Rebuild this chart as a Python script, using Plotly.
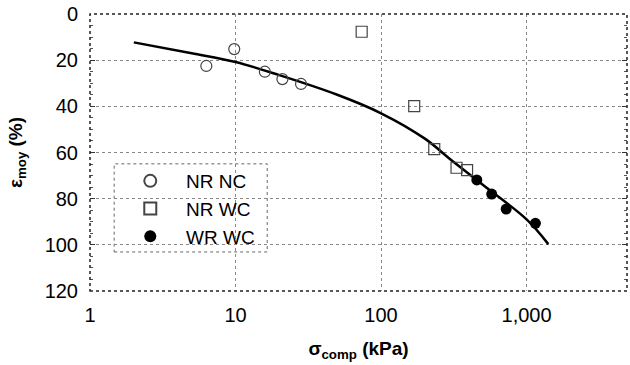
import plotly.graph_objects as go

# Compression stress (kPa) and mean strain (%) for each test group
nr_nc_sigma = [6.3, 9.8, 15.9, 21.0, 28.2]
nr_nc_eps = [22.5, 15.2, 25.0, 28.2, 30.3]

nr_wc_sigma = [73.6, 169.0, 232.0, 330.0, 390.0]
nr_wc_eps = [7.7, 39.9, 58.5, 66.6, 67.6]

wr_wc_sigma = [455.0, 576.0, 724.0, 1150.0]
wr_wc_eps = [71.9, 78.0, 84.5, 90.7]

# Trend curve through the whole data set
trend_sigma = [2.0, 5.0, 10.0, 20.0, 50.0, 100.0, 200.0, 300.0, 500.0, 1000.0, 1410.0]
trend_eps = [12.3, 17.0, 20.8, 26.5, 35.0, 43.0, 54.0, 63.0, 74.0, 89.0, 99.7]

x_tick_vals = [1, 10, 100, 1000]
x_tick_text = ["1", "10", "100", "1,000"]
y_tick_vals = [0, 20, 40, 60, 80, 100, 120]

FONT = "Liberation Sans, Arial, sans-serif"
PAD = "\u00a0\u00a0\u00a0"

fig = go.Figure()

fig.add_trace(go.Scatter(
    x=trend_sigma, y=trend_eps, mode="lines", line_shape="spline",
    line=dict(color="black", width=2.5), showlegend=False, hoverinfo="skip",
))
fig.add_trace(go.Scatter(
    x=nr_nc_sigma, y=nr_nc_eps, mode="markers", name=PAD + "NR NC",
    marker=dict(symbol="circle-open", size=11, color="#444", line=dict(width=1.2)),
))
fig.add_trace(go.Scatter(
    x=nr_wc_sigma, y=nr_wc_eps, mode="markers", name=PAD + "NR WC",
    marker=dict(symbol="square-open", size=11, color="#444", line=dict(width=1.2)),
))
fig.add_trace(go.Scatter(
    x=wr_wc_sigma, y=wr_wc_eps, mode="markers", name=PAD + "WR WC",
    marker=dict(symbol="circle", size=11, color="black", line=dict(width=0)),
))

# Plot frame and legend box, both dotted
fig.add_shape(type="rect", xref="paper", yref="paper", x0=0, x1=1, y0=0, y1=1,
              line=dict(color="#222", width=1.5, dash="dot"), layer="above")
fig.add_shape(type="rect", xref="paper", yref="paper", x0=0.045, x1=0.33, y0=0.141, y1=0.459,
              line=dict(color="#666", width=1, dash="dot"), fillcolor="white", layer="between")

fig.update_layout(
    width=630, height=365,
    margin=dict(l=90, r=3, t=14, b=74),
    paper_bgcolor="white", plot_bgcolor="white",
    font=dict(family=FONT, size=20, color="black"),
    legend=dict(x=0.075, y=0.296, xanchor="left", yanchor="middle",
                bgcolor="rgba(0,0,0,0)", borderwidth=0,
                font=dict(family=FONT, size=19, color="black"),
                tracegroupgap=0, itemsizing="constant"),
    xaxis=dict(
        type="log", range=[0, 3.69],
        tickvals=x_tick_vals, ticktext=x_tick_text,
        tickfont=dict(family=FONT, size=20),
        showgrid=True, gridcolor="#888", griddash="dot", gridwidth=1,
        ticks="", showline=False, zeroline=False,
        ticklabelstandoff=10,
        title=dict(text="<b>σ<sub>comp</sub> (kPa)</b>", standoff=16,
                   font=dict(family=FONT, size=19)),
    ),
    yaxis=dict(
        range=[120, 0], tickvals=y_tick_vals,
        tickfont=dict(family=FONT, size=20),
        showgrid=True, gridcolor="#888", griddash="dot", gridwidth=1,
        ticks="inside", ticklen=5, tickcolor="#333", mirror="ticks",
        minor=dict(dtick=5, ticks="inside", ticklen=3, tickcolor="#555", showgrid=False),
        showline=False, zeroline=False,
        ticklabelstandoff=11,
        title=dict(text="<b>ε<sub>moy</sub> (%)</b>", standoff=16,
                   font=dict(family=FONT, size=19)),
    ),
)

fig.write_html("out.html")
